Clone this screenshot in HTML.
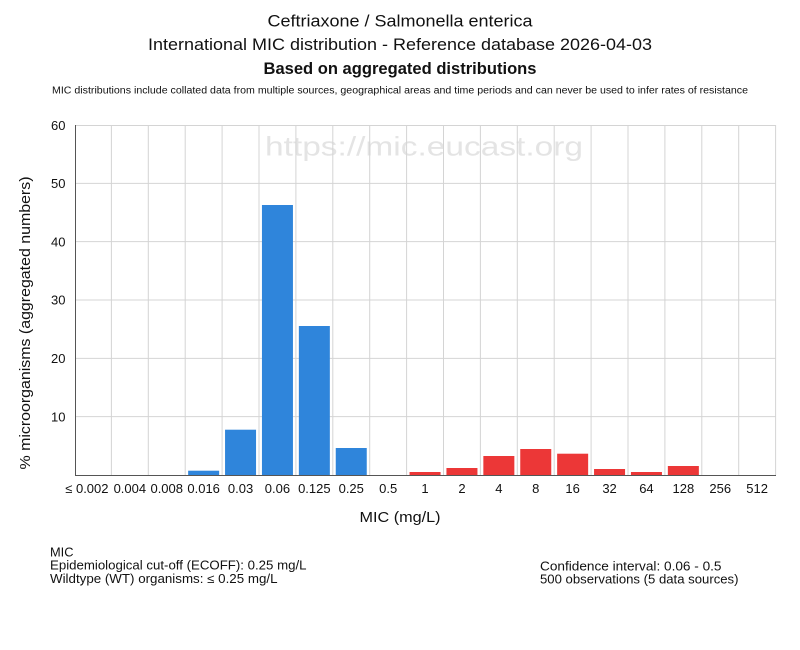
<!DOCTYPE html>
<html><head><meta charset="utf-8"><style>
html,body{margin:0;padding:0;background:#fff;}
svg{display:block;}
text{font-family:"Liberation Sans","DejaVu Sans",sans-serif;fill:#111;}
</style></head><body>
<svg width="800" height="650" viewBox="0 0 800 650" xmlns="http://www.w3.org/2000/svg">
<rect width="800" height="650" fill="#fff"/>
<text x="400" y="26.5" font-size="17" text-anchor="middle" textLength="265" lengthAdjust="spacingAndGlyphs">Ceftriaxone / Salmonella enterica</text>
<text x="400" y="50" font-size="17" text-anchor="middle" textLength="504" lengthAdjust="spacingAndGlyphs">International MIC distribution - Reference database 2026-04-03</text>
<text x="400" y="74" font-size="16.5" font-weight="bold" text-anchor="middle" textLength="273" lengthAdjust="spacingAndGlyphs">Based on aggregated distributions</text>
<text x="400" y="93.5" font-size="10" text-anchor="middle" textLength="696" lengthAdjust="spacingAndGlyphs">MIC distributions include collated data from multiple sources, geographical areas and time periods and can never be used to infer rates of resistance</text>

<text x="265" y="155.7" font-size="27" textLength="318" lengthAdjust="spacingAndGlyphs" style="fill:#e4e4e4">https://mic.eucast.org</text>

<g stroke="#d4d4d4" stroke-width="1" fill="none">
<line x1="75" y1="416.67" x2="775.6" y2="416.67"/>
<line x1="75" y1="358.33" x2="775.6" y2="358.33"/>
<line x1="75" y1="300" x2="775.6" y2="300"/>
<line x1="75" y1="241.67" x2="775.6" y2="241.67"/>
<line x1="75" y1="183.33" x2="775.6" y2="183.33"/>
<line x1="75" y1="125.5" x2="775.6" y2="125.5"/>
<line x1="111.4" y1="125" x2="111.4" y2="475"/>
<line x1="148.3" y1="125" x2="148.3" y2="475"/>
<line x1="185.2" y1="125" x2="185.2" y2="475"/>
<line x1="222.1" y1="125" x2="222.1" y2="475"/>
<line x1="259" y1="125" x2="259" y2="475"/>
<line x1="295.9" y1="125" x2="295.9" y2="475"/>
<line x1="332.8" y1="125" x2="332.8" y2="475"/>
<line x1="369.7" y1="125" x2="369.7" y2="475"/>
<line x1="406.6" y1="125" x2="406.6" y2="475"/>
<line x1="443.5" y1="125" x2="443.5" y2="475"/>
<line x1="480.4" y1="125" x2="480.4" y2="475"/>
<line x1="517.3" y1="125" x2="517.3" y2="475"/>
<line x1="554.2" y1="125" x2="554.2" y2="475"/>
<line x1="591.1" y1="125" x2="591.1" y2="475"/>
<line x1="628" y1="125" x2="628" y2="475"/>
<line x1="664.9" y1="125" x2="664.9" y2="475"/>
<line x1="701.8" y1="125" x2="701.8" y2="475"/>
<line x1="738.7" y1="125" x2="738.7" y2="475"/>
<line x1="775.6" y1="125" x2="775.6" y2="475"/>
</g>

<g fill="#2f85db">
<rect x="188.15" y="470.7" width="31" height="4.3"/>
<rect x="225.05" y="429.7" width="31" height="45.3"/>
<rect x="261.95" y="205" width="31" height="270"/>
<rect x="298.85" y="326" width="31" height="149"/>
<rect x="335.75" y="448" width="31" height="27"/>
</g>
<g fill="#ec3737">
<rect x="409.55" y="472" width="31" height="3"/>
<rect x="446.45" y="468" width="31" height="7"/>
<rect x="483.35" y="456" width="31" height="19"/>
<rect x="520.25" y="449" width="31" height="26"/>
<rect x="557.15" y="453.7" width="31" height="21.3"/>
<rect x="594.05" y="469" width="31" height="6"/>
<rect x="630.95" y="472" width="31" height="3"/>
<rect x="667.85" y="466" width="31" height="9"/>
</g>

<g stroke="#555" stroke-width="1">
<line x1="75.5" y1="125" x2="75.5" y2="476"/>
<line x1="75" y1="475.5" x2="776" y2="475.5"/>
</g>

<g font-size="13" text-anchor="end">
<text x="65.5" y="130">60</text>
<text x="65.5" y="188">50</text>
<text x="65.5" y="246.3">40</text>
<text x="65.5" y="304.6">30</text>
<text x="65.5" y="363">20</text>
<text x="65.5" y="421.3">10</text>
</g>

<g font-size="13" text-anchor="middle">
<text x="108.5" y="493" text-anchor="end">≤ 0.002</text>
<text x="129.85" y="493">0.004</text>
<text x="166.75" y="493">0.008</text>
<text x="203.65" y="493">0.016</text>
<text x="240.55" y="493">0.03</text>
<text x="277.45" y="493">0.06</text>
<text x="314.35" y="493">0.125</text>
<text x="351.25" y="493">0.25</text>
<text x="388.15" y="493">0.5</text>
<text x="425.05" y="493">1</text>
<text x="461.95" y="493">2</text>
<text x="498.85" y="493">4</text>
<text x="535.75" y="493">8</text>
<text x="572.65" y="493">16</text>
<text x="609.55" y="493">32</text>
<text x="646.45" y="493">64</text>
<text x="683.35" y="493">128</text>
<text x="720.25" y="493">256</text>
<text x="757.15" y="493">512</text>
</g>

<text x="400" y="522" font-size="14.5" text-anchor="middle" textLength="81" lengthAdjust="spacingAndGlyphs">MIC (mg/L)</text>
<text transform="translate(30,323) rotate(-90)" font-size="14.5" text-anchor="middle" textLength="293" lengthAdjust="spacingAndGlyphs">% microorganisms (aggregated numbers)</text>

<g font-size="12.5">
<text x="50" y="556.5" textLength="23.5" lengthAdjust="spacingAndGlyphs">MIC</text>
<text x="50" y="569.5" textLength="256.5" lengthAdjust="spacingAndGlyphs">Epidemiological cut-off (ECOFF): 0.25 mg/L</text>
<text x="50" y="583" textLength="227.5" lengthAdjust="spacingAndGlyphs">Wildtype (WT) organisms: ≤ 0.25 mg/L</text>
<text x="540" y="570.5" textLength="181.5" lengthAdjust="spacingAndGlyphs">Confidence interval: 0.06 - 0.5</text>
<text x="540" y="583.3" textLength="198.5" lengthAdjust="spacingAndGlyphs">500 observations (5 data sources)</text>
</g>
</svg>
</body></html>
